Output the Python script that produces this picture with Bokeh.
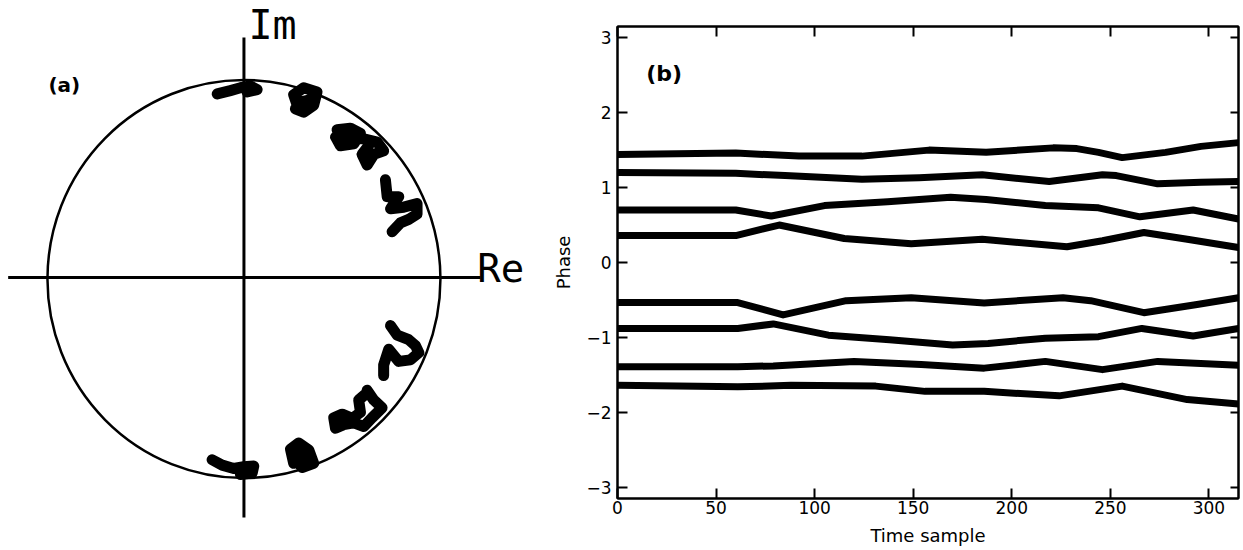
from bokeh.plotting import figure
from bokeh.layouts import row, column
from bokeh.models import Range1d, LinearAxis, FixedTicker
from bokeh.core.properties import value
from bokeh.embed import file_html
from bokeh.resources import INLINE

# ---------------- data: panel (a) trajectories (Re, Im) ----------------
blob1_re = [-0.136, -0.069, -0.018, 0.033, 0.067, 0.016]
blob1_im = [0.930, 0.947, 0.961, 0.970, 0.952, 0.940]
blob2_re = [0.271, 0.253, 0.304, 0.372, 0.355, 0.304, 0.262, 0.296, 0.330]
blob2_im = [0.873, 0.926, 0.961, 0.940, 0.873, 0.838, 0.855, 0.891, 0.899]
blob3_re = [0.474, 0.542, 0.593, 0.559, 0.491, 0.466, 0.533, 0.610, 0.678, 0.711, 0.661, 0.627, 0.601, 0.635]
blob3_im = [0.750, 0.758, 0.732, 0.679, 0.670, 0.714, 0.705, 0.705, 0.688, 0.644, 0.626, 0.573, 0.626, 0.670]
blob4_re = [0.720, 0.729, 0.788, 0.746, 0.813, 0.881, 0.881, 0.839, 0.796, 0.754]
blob4_im = [0.499, 0.414, 0.414, 0.353, 0.361, 0.379, 0.326, 0.300, 0.282, 0.238]
blob5_re = [0.746, 0.780, 0.839, 0.873, 0.890, 0.847, 0.788, 0.737, 0.711, 0.711]
blob5_im = [-0.234, -0.282, -0.305, -0.335, -0.370, -0.406, -0.414, -0.353, -0.432, -0.485]
blob6_re = [0.627, 0.661, 0.703, 0.652, 0.610, 0.559, 0.508, 0.466, 0.457, 0.500, 0.551, 0.593, 0.584, 0.618]
blob6_im = [-0.559, -0.608, -0.647, -0.697, -0.741, -0.723, -0.732, -0.750, -0.697, -0.679, -0.700, -0.670, -0.608, -0.579]
blob7_re = [0.253, 0.237, 0.279, 0.330, 0.355, 0.296, 0.262, 0.288, 0.321]
blob7_im = [-0.926, -0.855, -0.824, -0.859, -0.926, -0.947, -0.908, -0.882, -0.899]
blob8_re = [-0.162, -0.111, -0.052, -0.001, 0.050, 0.042, -0.018]
blob8_im = [-0.908, -0.935, -0.952, -0.943, -0.940, -0.975, -0.982]

# ---------------- data: panel (b) phase vs time sample ----------------
t1 = [0, 60, 92, 124, 158, 187, 221, 233, 244, 256, 278, 296, 315]
p1 = [1.44, 1.46, 1.42, 1.42, 1.50, 1.47, 1.53, 1.52, 1.47, 1.40, 1.47, 1.55, 1.60]
t2 = [0, 60, 85, 124, 153, 185, 219, 246, 253, 274, 296, 315]
p2 = [1.20, 1.19, 1.16, 1.11, 1.13, 1.17, 1.08, 1.17, 1.16, 1.05, 1.07, 1.08]
t3 = [0, 60, 78, 105, 137, 169, 187, 217, 244, 265, 292, 315]
p3 = [0.70, 0.70, 0.62, 0.76, 0.81, 0.87, 0.84, 0.76, 0.73, 0.61, 0.70, 0.58]
t4 = [0, 60, 82, 115, 149, 185, 228, 246, 267, 289, 315]
p4 = [0.36, 0.36, 0.50, 0.32, 0.25, 0.31, 0.21, 0.29, 0.40, 0.31, 0.20]
t5 = [0, 61, 84, 116, 149, 186, 226, 240, 267, 294, 315]
p5 = [-0.535, -0.535, -0.70, -0.51, -0.47, -0.54, -0.47, -0.51, -0.67, -0.56, -0.47]
t6 = [0, 61, 79, 107, 138, 170, 188, 217, 244, 266, 292, 315]
p6 = [-0.88, -0.88, -0.82, -0.97, -1.03, -1.10, -1.08, -1.01, -0.99, -0.88, -0.98, -0.88]
t7 = [0, 61, 79, 120, 154, 186, 217, 246, 274, 315]
p7 = [-1.39, -1.39, -1.38, -1.32, -1.36, -1.41, -1.32, -1.43, -1.32, -1.37]
t8 = [0, 61, 88, 131, 156, 186, 224, 256, 289, 315]
p8 = [-1.64, -1.66, -1.64, -1.65, -1.72, -1.72, -1.78, -1.65, -1.83, -1.89]

x_ticks = [0, 50, 100, 150, 200, 250, 300]
y_ticks = [-3, -2, -1, 0, 1, 2, 3]

# ---------------- panel (a) ----------------
pa = figure(frame_width=548, frame_height=548, x_range=Range1d(-1.239, 1.550), y_range=Range1d(-1.354, 1.3995),
            output_backend="svg", toolbar_location=None, x_axis_location=None, y_axis_location=None,
            min_border=0, outline_line_color=None, title=None)
pa.grid.grid_line_color = None
pa.ellipse(x=0, y=0, width=2, height=2, fill_color=None, line_color="black", line_width=2.5)
pa.segment(x0=[-1.2, 0.0], y0=[0.008, 1.214], x1=[1.204, 0.0], y1=[0.008, -1.198], line_color="black", line_width=3)
blobs = [(blob1_re, blob1_im), (blob2_re, blob2_im), (blob3_re, blob3_im), (blob4_re, blob4_im),
         (blob5_re, blob5_im), (blob6_re, blob6_im), (blob7_re, blob7_im), (blob8_re, blob8_im)]
for bx, by in blobs:
    pa.line(bx, by, line_color="black", line_width=11, line_join="round", line_cap="round")
pa.text(x=[0.023], y=[1.274], text=["Im"], text_font=value("DejaVu Sans Mono"), text_font_size="40px",
        text_baseline="middle", text_align="left", text_color="black")
pa.text(x=[1.188], y=[0.053], text=["Re"], text_font=value("DejaVu Sans Mono"), text_font_size="39px",
        text_baseline="middle", text_align="left", text_color="black")
pa.text(x=[-0.995], y=[0.977], text=["(a)"], text_font=value("DejaVu Sans"), text_font_style="bold",
        text_font_size="20px", text_baseline="middle", text_align="left", text_color="black")

# ---------------- panel (b) ----------------
pb = figure(frame_width=621, frame_height=472, x_range=Range1d(0, 315), y_range=Range1d(-3.15, 3.15),
            output_backend="svg", toolbar_location=None, title=None,
            min_border_left=69, min_border_top=26, min_border_bottom=50, min_border_right=2,
            outline_line_color="black", outline_line_width=2)
pb.grid.grid_line_color = None
for ax in [pb.xaxis[0], pb.yaxis[0]]:
    ax.major_tick_in = 10
    ax.major_tick_out = 0
    ax.minor_tick_line_color = None
    ax.axis_line_width = 2
    ax.major_tick_line_width = 2
    ax.major_label_text_font = "DejaVu Sans"
    ax.major_label_text_font_size = "17px"
    ax.major_label_text_color = "black"
    ax.axis_label_text_font = "DejaVu Sans"
    ax.axis_label_text_font_style = "normal"
    ax.axis_label_text_font_size = "18px"
    ax.axis_label_text_color = "black"
pb.xaxis[0].ticker = FixedTicker(ticks=x_ticks)
pb.yaxis[0].ticker = FixedTicker(ticks=y_ticks)
pb.xaxis[0].axis_label = "Time sample"
pb.yaxis[0].axis_label = "Phase"
pb.xaxis[0].major_label_standoff = 2
pb.xaxis[0].axis_label_standoff = 8
pb.yaxis[0].major_label_standoff = 6
pb.yaxis[0].axis_label_standoff = 9

top_ax = LinearAxis(ticker=FixedTicker(ticks=x_ticks), major_tick_in=10, major_tick_out=0,
                    minor_tick_line_color=None, axis_line_width=2, major_tick_line_width=2,
                    major_label_overrides={t: "" for t in x_ticks},
                    major_label_text_font_size="1px", major_label_standoff=0)
right_ax = LinearAxis(ticker=FixedTicker(ticks=y_ticks), major_tick_in=8, major_tick_out=0,
                      minor_tick_line_color=None, axis_line_width=2, major_tick_line_width=2,
                      major_label_overrides={t: "" for t in y_ticks},
                      major_label_text_font_size="1px", major_label_standoff=0)
pb.add_layout(top_ax, "above")
pb.add_layout(right_ax, "right")

series = [(t1, p1), (t2, p2), (t3, p3), (t4, p4), (t5, p5), (t6, p6), (t7, p7), (t8, p8)]
for tx, py in series:
    pb.line(tx, py, line_color="black", line_width=7, line_join="round", line_cap="round")

pb.text(x=[14.6], y=[2.52], text=["(b)"], text_font=value("DejaVu Sans"), text_font_style="bold",
        text_font_size="22px", text_baseline="middle", text_align="left", text_color="black")

layout = row(column(pa), column(pb))
open("out.html", "w").write(file_html(layout, INLINE))
